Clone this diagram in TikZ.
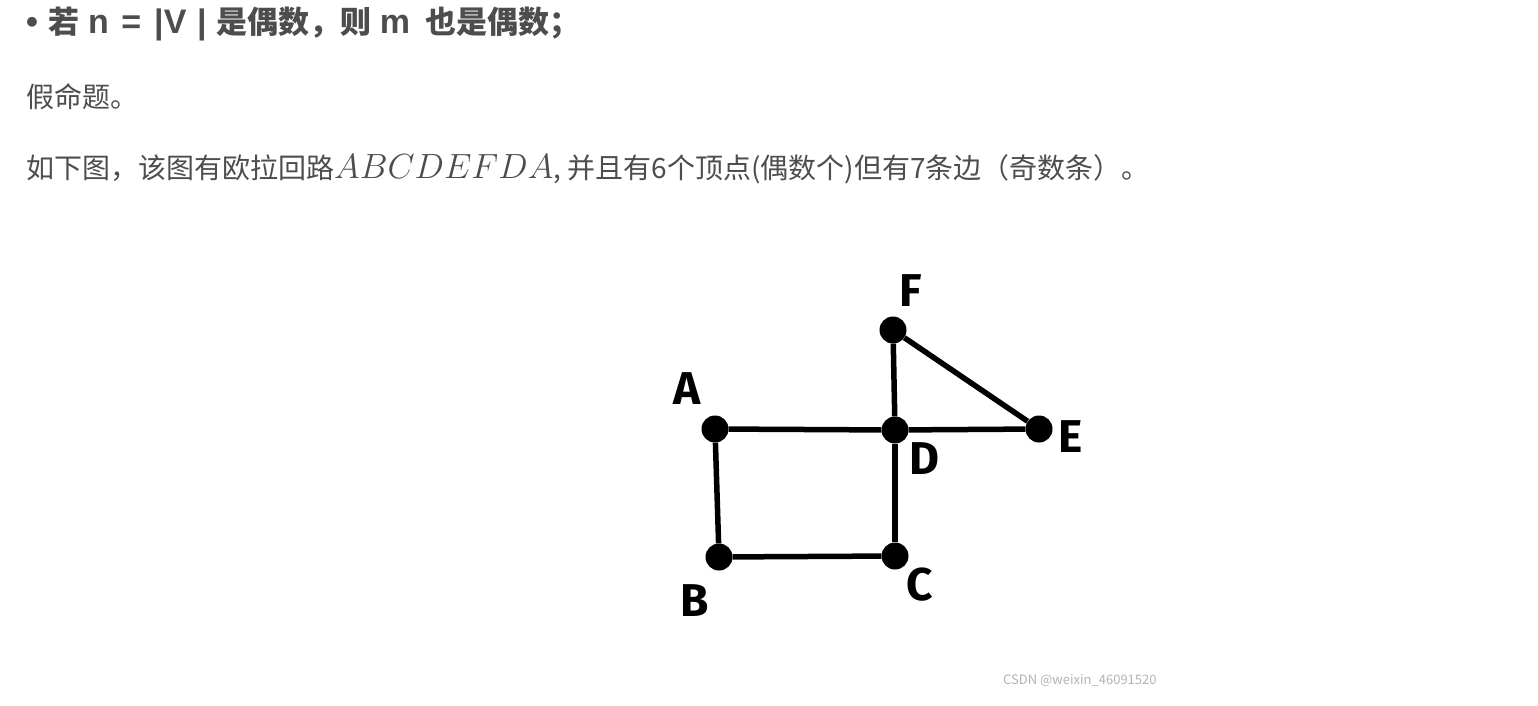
\documentclass[tikz,border=0pt]{standalone}
\usepackage{fix-cm}
\usepackage{fontspec}
\usepackage{tikz}
\usepackage{xcolor}
\usetikzlibrary{positioning}
\setmainfont{Noto Sans CJK SC}
\newfontfamily\lblfont{Fira Sans}
\newfontfamily\latfont{Liberation Sans}
\definecolor{ink}{HTML}{4D4D4D}
\definecolor{markgray}{HTML}{B4B4B4}
\newcommand{\lat}[1]{{\fontsize{34}{38}\selectfont\latfont #1}}
\tikzset{
  headline/.style={anchor=base west,inner sep=0pt,text=ink,
                   font=\fontsize{31}{36}\selectfont\bfseries},
  bodyline/.style={anchor=base west,inner sep=0pt,text=ink,
                   font=\fontsize{28}{32}\selectfont},
  vertex/.style={circle,fill=black,inner sep=0pt,minimum size=27pt},
  vlabel/.style={inner sep=0pt,font=\fontsize{46}{50}\selectfont\lblfont\bfseries},
  edge/.style={line width=5.5pt,draw=black}
}

\begin{document}
\begin{tikzpicture}[x=1pt,y=-1pt]
    \path[use as bounding box,fill=white] (0,0) rectangle (1538,706);

    \node[headline] (title) at (26,34)
      {\lat{•}\hspace{10.5pt}若\hspace{8.5pt}\lat{n}\hspace{12.5pt}\lat{=}\hspace{13pt}\lat{|V}\hspace{10.8pt}\lat{|}\hspace{9.7pt}是偶数，则\hspace{8.5pt}\lat{m}\hspace{15.3pt}也是偶数；};
    \node[bodyline] (verdict) at (26,107) {假命题。};
    \node[bodyline] (reason) at (26,178)
      {如下图，该图有欧拉回路{\fontsize{35}{40}\selectfont$ABCDEFDA$}, 并且有6个顶点(偶数个)但有7条边（奇数条）。};

    % vertices
    \node[vertex] (A) at (715,429) {};
    \node[vertex] (B) at (719,557) {};
    \node[vertex] (C) at (895,556) {};
    \node[vertex] (D) at (895,430) {};
    \node[vertex] (E) at (1039,429) {};
    \node[vertex] (F) at (893,330) {};

    \node[vlabel] (lA) at (687,389) {A};
    \node[vlabel] (lB) at (695,601) {B};
    \node[vlabel] (lC) at (920,585) {C};
    \node[vlabel] (lD) at (924,459) {D};
    \node[vlabel] (lE) at (1071,437) {E};
    \node[vlabel] (lF) at (911,291) {F};

    % edges
    \draw[edge] (A) -- (B);
    \draw[edge] (B) -- (C);
    \draw[edge] (C) -- (D);
    \draw[edge] (A) -- (D);
    \draw[edge] (D) -- (E);
    \draw[edge] (E) -- (F);
    \draw[edge] (F) -- (D);

    \node[anchor=base west,inner sep=0pt,text=markgray,
          font=\fontsize{13}{15}\selectfont] (mark) at (1003,684)
      {CSDN @weixin\_46091520};
  \end{tikzpicture}
\end{document}
